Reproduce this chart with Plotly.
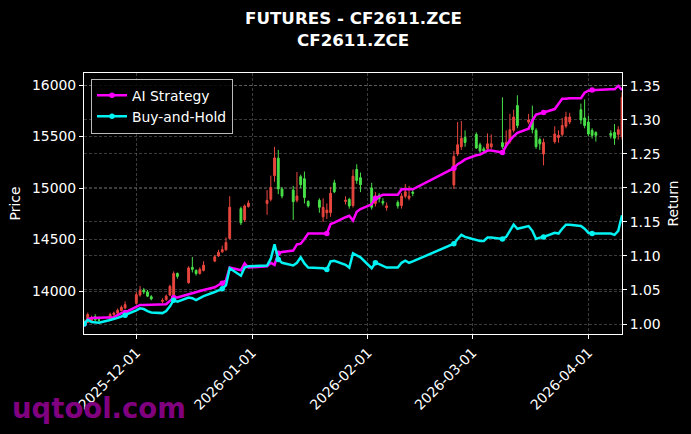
import plotly.graph_objects as go

dates = [
    "2025-11-17", "2025-11-18", "2025-11-19", "2025-11-20", "2025-11-21",
    "2025-11-24", "2025-11-25", "2025-11-26", "2025-11-27", "2025-11-28",
    "2025-12-01", "2025-12-02", "2025-12-03", "2025-12-04", "2025-12-05",
    "2025-12-08", "2025-12-09", "2025-12-10", "2025-12-11", "2025-12-12",
    "2025-12-15", "2025-12-16", "2025-12-17", "2025-12-18", "2025-12-19",
    "2025-12-22", "2025-12-23", "2025-12-24", "2025-12-25", "2025-12-26",
    "2025-12-29", "2025-12-30", "2025-12-31",
    "2026-01-05", "2026-01-06", "2026-01-07", "2026-01-08", "2026-01-09",
    "2026-01-12", "2026-01-13", "2026-01-14", "2026-01-15", "2026-01-16",
    "2026-01-19", "2026-01-20", "2026-01-21", "2026-01-22", "2026-01-23",
    "2026-01-26", "2026-01-27", "2026-01-28", "2026-01-29", "2026-01-30",
    "2026-02-02", "2026-02-03", "2026-02-04", "2026-02-05", "2026-02-06",
    "2026-02-09", "2026-02-10", "2026-02-11", "2026-02-12", "2026-02-13",
    "2026-02-24", "2026-02-25", "2026-02-26", "2026-02-27",
    "2026-03-02", "2026-03-03", "2026-03-04", "2026-03-05", "2026-03-06",
    "2026-03-09", "2026-03-10", "2026-03-11", "2026-03-12", "2026-03-13",
    "2026-03-16", "2026-03-17", "2026-03-18", "2026-03-19", "2026-03-20",
    "2026-03-23", "2026-03-24", "2026-03-25", "2026-03-26", "2026-03-27",
    "2026-03-30", "2026-03-31", "2026-04-01", "2026-04-02", "2026-04-03",
    "2026-04-07", "2026-04-08", "2026-04-09", "2026-04-10",
]

opens = [
    13705, 13695, 13710, 13750, 13720, 13725, 13770, 13785, 13810, 13835,
    13880, 13960, 14010, 13990, 13945, 13900, 13915, 13960, 13930, 14170,
    14080, 14230, 14200, 14170, 14200, 14290, 14340, 14380, 14400, 14510,
    14800, 14690, 14820,
    14850, 14890, 15120, 15290, 14990, 14980, 14880, 15110, 15090, 14870,
    14880, 14720, 14760, 14760, 15050, 14870, 14890, 14830, 15180, 15100,
    15000, 14850, 14930, 14870, 14810, 14860, 14830, 14920, 14900, 14960,
    15030, 15330, 15400, 15490,
    15520, 15420, 15380, 15380, 15400, 15440, 15420, 15450, 15560, 15800,
    15640, 15660, 15560, 15470, 15330, 15450, 15490, 15520, 15600, 15640,
    15760, 15680, 15640, 15560, 15540, 15530, 15540, 15520, 15500,
]
highs = [
    13725, 13790, 13760, 13775, 13740, 13790, 13800, 13830, 13860, 13900,
    13990, 14050, 14030, 14010, 13960, 13930, 13965, 14060, 14190, 14180,
    14240, 14330, 14210, 14230, 14290, 14350, 14400, 14440, 14520, 14920,
    14820, 14840, 14880,
    14980, 15120, 15400, 15370, 15010, 15020, 15155, 15130, 15160, 14880,
    14900, 14900, 14850, 15010, 15080, 14920, 14905, 15180, 15230, 15150,
    15050, 14960, 14950, 14900, 14860, 14880, 14950, 15040, 15020, 14990,
    15360, 15640, 15650, 15560,
    15540, 15440, 15400, 15530, 15520, 15880, 15560, 15720, 15760, 15900,
    15720, 15800, 15580, 15490, 15480, 15600, 15560, 15680, 15740, 15730,
    15820, 15860, 15700, 15580, 15550, 15560, 15620, 15600, 15930,
]
lows = [
    13675, 13690, 13700, 13705, 13700, 13715, 13760, 13775, 13800, 13825,
    13870, 13945, 13970, 13940, 13910, 13880, 13905, 13950, 13920, 14120,
    14070, 14180, 14150, 14160, 14190, 14280, 14330, 14370, 14390, 14500,
    14640, 14670, 14810,
    14740, 14870, 15060, 14940, 14900, 14690, 14860, 15000, 14850, 14810,
    14760, 14670, 14700, 14720, 14950, 14840, 14800, 14810, 15040, 14960,
    14790, 14820, 14860, 14830, 14780, 14800, 14800, 14900, 14880, 14920,
    14990, 15310, 15370, 15400,
    15380, 15340, 15330, 15370, 15380, 15380, 15400, 15430, 15540, 15580,
    15620, 15530, 15380, 15370, 15220, 15430, 15440, 15500, 15580, 15620,
    15620, 15580, 15500, 15480, 15450, 15480, 15420, 15470, 15470,
]
closes = [
    13690, 13772, 13731, 13720, 13717, 13772, 13786, 13813, 13841, 13868,
    13964, 14005, 13991, 13950, 13923, 13909, 13950, 14046, 14169, 14142,
    14224, 14210, 14169, 14210, 14251, 14333, 14375, 14402, 14470, 14813,
    14662, 14826, 14854,
    14880, 15004, 15292, 14991, 14922, 14867, 14922, 15032, 14908, 14826,
    14813, 14813, 14785, 14949, 14963, 14881, 14826, 15114, 15073, 15032,
    14813, 14922, 14895, 14854, 14826, 14826, 14922, 14963, 14922, 14949,
    15305, 15420, 15483, 15442,
    15388, 15360, 15360, 15429, 15429, 15401, 15442, 15566, 15689, 15607,
    15661, 15566, 15401, 15429, 15442, 15524, 15511, 15607, 15689, 15689,
    15661, 15607, 15524, 15511, 15511, 15511, 15483, 15566, 15880,
]

ai_strategy = [
    1.000, 1.007, 1.009, 1.009, 1.009, 1.009, 1.010, 1.013, 1.016, 1.017,
    1.025, 1.028, 1.028, 1.028, 1.028, 1.028, 1.029, 1.034, 1.039, 1.039,
    1.044, 1.045, 1.047, 1.048, 1.050, 1.054, 1.057, 1.060, 1.064, 1.083,
    1.079, 1.089, 1.083,
    1.085, 1.090, 1.087, 1.104, 1.106, 1.108, 1.117, 1.118, 1.125, 1.133,
    1.133, 1.133, 1.133, 1.147, 1.149, 1.157, 1.159, 1.152, 1.165, 1.169,
    1.176, 1.185, 1.188, 1.190, 1.190, 1.190, 1.198, 1.198, 1.198, 1.198,
    1.229, 1.235, 1.238, 1.242,
    1.248, 1.249, 1.252, 1.255, 1.255, 1.252, 1.262, 1.270, 1.276, 1.281,
    1.287, 1.299, 1.308, 1.309, 1.311, 1.316, 1.324, 1.331, 1.331, 1.332,
    1.332, 1.340, 1.343, 1.344, 1.344, 1.345, 1.345, 1.350, 1.344,
]
buy_hold = [
    1.000, 1.006, 1.003, 1.002, 1.002, 1.006, 1.007, 1.009, 1.011, 1.013,
    1.020, 1.023, 1.022, 1.019, 1.017, 1.016, 1.019, 1.026, 1.035, 1.033,
    1.039, 1.038, 1.035, 1.038, 1.041, 1.047, 1.050, 1.052, 1.057, 1.082,
    1.071, 1.083, 1.085,
    1.086, 1.096, 1.117, 1.095, 1.090, 1.086, 1.090, 1.098, 1.089, 1.083,
    1.082, 1.082, 1.080, 1.092, 1.093, 1.087, 1.083, 1.104, 1.101, 1.098,
    1.082, 1.090, 1.088, 1.085, 1.083, 1.083, 1.090, 1.093, 1.090, 1.092,
    1.118, 1.125, 1.131, 1.128,
    1.124, 1.122, 1.122, 1.127, 1.127, 1.125, 1.128, 1.137, 1.146, 1.140,
    1.144, 1.137, 1.125, 1.127, 1.128, 1.134, 1.133, 1.140, 1.146, 1.146,
    1.144, 1.140, 1.134, 1.133, 1.133, 1.133, 1.131, 1.137, 1.160,
]

month_ticks = ["2025-12-01", "2026-01-01", "2026-02-01", "2026-03-01", "2026-04-01"]
price_ticks = [14000, 14500, 15000, 15500, 16000]
return_ticks = [1.00, 1.05, 1.10, 1.15, 1.20, 1.25, 1.30, 1.35]
title_lines = ["FUTURES - CF2611.ZCE", "CF2611.ZCE"]

RED = "#e8463e"
GREEN = "#48e048"
MAGENTA = "#ff00ff"
CYAN = "#00f2f2"
FONT = "DejaVu Sans"
MARK_EVERY = 9

# plot area in pixels
L, R, T, B = 84, 622, 73, 334
W, H = 691, 434
PW, PH = R - L, B - T

mark_idx = [i for i in range(len(dates)) if i % MARK_EVERY == 0]

fig = go.Figure()
fig.add_trace(go.Candlestick(
    x=dates, open=opens, high=highs, low=lows, close=closes,
    increasing=dict(line=dict(color=RED, width=1), fillcolor=RED),
    decreasing=dict(line=dict(color=GREEN, width=1), fillcolor=GREEN),
    showlegend=False, yaxis="y", hoverinfo="skip",
))
for name, vals, col in [("AI Strategy", ai_strategy, MAGENTA), ("Buy-and-Hold", buy_hold, CYAN)]:
    fig.add_trace(go.Scatter(
        x=dates, y=vals, yaxis="y2", mode="lines",
        line=dict(color=col, width=2.5), showlegend=False, hoverinfo="skip",
    ))
    fig.add_trace(go.Scatter(
        x=[dates[i] for i in mark_idx], y=[vals[i] for i in mark_idx], yaxis="y2",
        mode="markers", marker=dict(color=col, size=5.5, symbol="circle", line=dict(width=0)),
        showlegend=False, hoverinfo="skip",
    ))
    fig.add_trace(go.Scatter(
        x=[None], y=[None], yaxis="y2", name=name, mode="lines+markers",
        line=dict(color=col, width=2.5),
        marker=dict(color=col, size=5.5, symbol="circle", line=dict(width=0)),
    ))

grid = dict(showgrid=True, gridcolor="rgba(140,140,140,0.42)", gridwidth=0.6, griddash="3px,2px")
tick = dict(ticks="outside", ticklen=4, tickcolor="white", tickwidth=1)

annotations = [
    dict(text="<b>%s</b>" % title_lines[0], xref="paper", yref="paper",
         x=0.5, y=1 + (T - 18) / PH, xanchor="center", yanchor="middle",
         showarrow=False, font=dict(size=16.7, color="white", family=FONT)),
    dict(text="<b>%s</b>" % title_lines[1], xref="paper", yref="paper",
         x=0.5, y=1 + (T - 40) / PH, xanchor="center", yanchor="middle",
         showarrow=False, font=dict(size=16.7, color="white", family=FONT)),
    dict(text="<b>uqtool.com</b>", xref="paper", yref="paper",
         x=(10 - L) / PW, y=-(408 - B) / PH, xanchor="left", yanchor="middle",
         showarrow=False, font=dict(size=27.5, color="#800080", family=FONT)),
]

fig.update_layout(
    width=W, height=H,
    margin=dict(l=L, r=W - R, t=T, b=H - B),
    paper_bgcolor="black", plot_bgcolor="black",
    font=dict(family=FONT, color="white", size=13.9),
    xaxis=dict(
        type="date", range=["2025-11-17", "2026-04-10"],
        tickvals=month_ticks, tickformat="%Y-%m-%d", tickangle=-45,
        showline=True, linecolor="white", linewidth=1, mirror=True,
        rangeslider=dict(visible=False), zeroline=False,
        tickfont=dict(size=13.9), **tick, **grid,
    ),
    yaxis=dict(
        range=[13582.5, 16116.5], tickvals=price_ticks, tickformat="d",
        title=dict(text="Price", font=dict(size=13.9), standoff=8),
        showline=True, linecolor="white", linewidth=1, mirror=True,
        zeroline=False, **tick, **grid,
    ),
    yaxis2=dict(
        overlaying="y", side="right", range=[0.9853, 1.369],
        tickvals=return_ticks, tickformat=".2f",
        title=dict(text="Return", font=dict(size=13.9), standoff=8),
        showline=False, zeroline=False, **tick, **grid,
    ),
    legend=dict(
        x=0.013, y=0.978, xanchor="left", yanchor="top",
        bgcolor="rgba(0,0,0,0.85)", bordercolor="#bbbbbb", borderwidth=1,
        font=dict(size=13.9, color="white"), itemwidth=30,
        tracegroupgap=0,
    ),
    annotations=annotations,
)

fig.write_html("out.html")
